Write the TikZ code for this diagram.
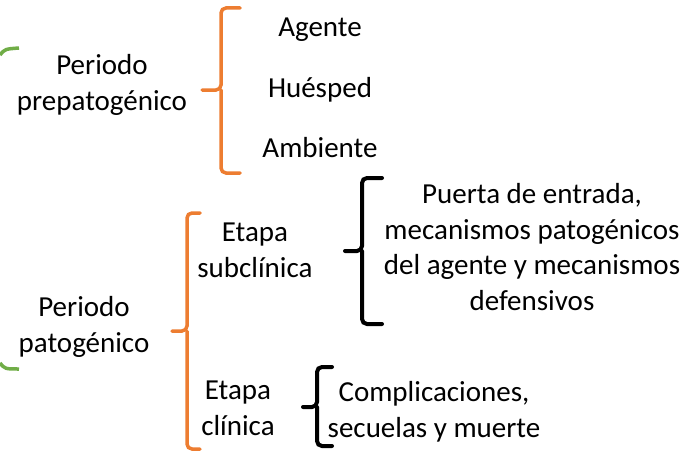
\documentclass[tikz,border=0pt]{standalone}
\usepackage{fontspec}
\setmainfont{Carlito}
\usepackage{tikz}

\definecolor{verde}{HTML}{70AD47}
\definecolor{naranja}{HTML}{ED7D31}

\tikzset{
  texto/.style={anchor=base, align=center, inner sep=0pt, font=\fontsize{29}{35.5}\selectfont},
  llave/.style={line width=3.5pt, rounded corners=5pt, line cap=round},
}

\begin{document}
\begin{tikzpicture}[x=1pt, y=-1pt]
\useasboundingbox (0,0) rectangle (690,452);

% base = linea de base de la ultima linea
\node[texto] (prep) at (102,110) {Periodo\\prepatogénico};
\node[texto] (agente) at (320,37) {Agente};
\node[texto] (huesped) at (320,97) {Huésped};
\node[texto] (ambiente) at (320,157) {Ambiente};

\node[texto] (pato) at (84,352) {Periodo\\patogénico};
\node[texto] (subcl) at (255,277) {Etapa\\subclínica};
\node[texto] (clin) at (238,435) {Etapa\\clínica};
\node[texto] (puerta) at (532,310) {Puerta de entrada,\\mecanismos patogénicos\\del agente y mecanismos\\defensivos};
\node[texto] (compl) at (434,437) {Complicaciones,\\secuelas y muerte};

% llave verde (cortada por el borde)
\draw[verde, line width=3.5pt] (0,55) .. controls (5,49) .. (19,48);
\draw[verde, line width=3.5pt] (0,363) .. controls (5,369) .. (19,369);

% llaves naranjas
\draw[llave, naranja] (240,8) -| (221,90) -- (202,90);
\draw[llave, naranja] (240,173) -| (221,90);
\draw[llave, naranja] (200,213) -| (187,331) -- (172,331);
\draw[llave, naranja] (200,449) -| (187,331);

% llaves negras
\draw[llave, black, line width=4pt] (382,178) -| (362,251) -- (345,251);
\draw[llave, black, line width=4pt] (382,324) -| (362,251);
\draw[llave, black, line width=4pt] (332,367) -| (317,407) -- (303,407);
\draw[llave, black, line width=4pt] (332,446) -| (317,407);
\end{tikzpicture}
\end{document}
